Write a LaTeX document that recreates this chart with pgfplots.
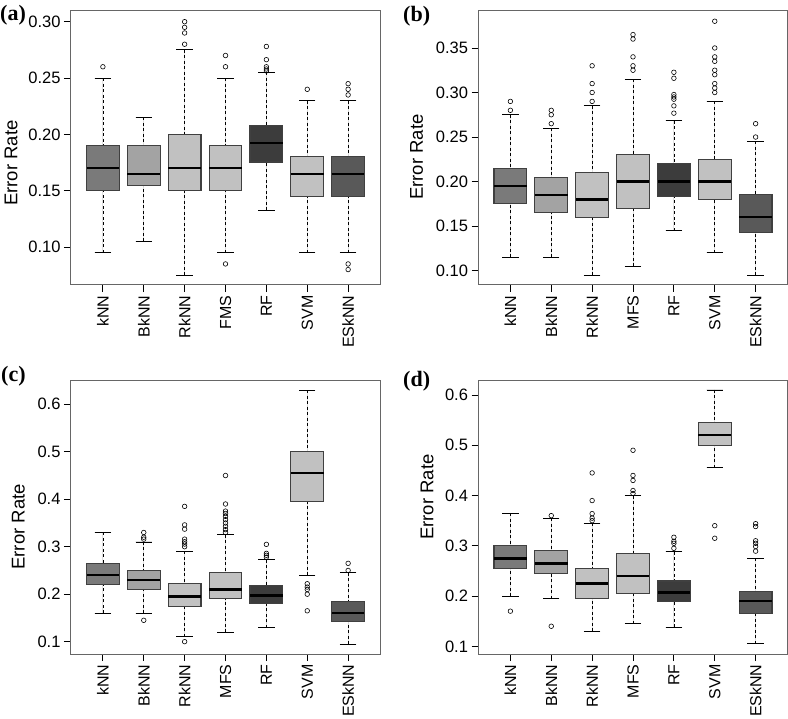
\documentclass[border=0pt]{standalone}
\usepackage{pgfplots}
\pgfplotsset{compat=1.18}
\usepgfplotslibrary{statistics}
\usepackage{fontspec}
\setmainfont{Liberation Sans}
\newfontfamily\seriffont{Liberation Serif}
\definecolor{cA}{HTML}{7A7A7A}
\definecolor{cB}{HTML}{A3A3A3}
\definecolor{cC}{HTML}{C1C1C1}
\definecolor{cD}{HTML}{3C3C3C}
\definecolor{cE}{HTML}{595959}
\pgfplotsset{
  boxplot/draw/lower whisker/.code={%
    \draw[black, solid, line width=0.9pt]
      (boxplot whisker cs:\pgfplotsboxplotvalue{lower whisker},0) --
      (boxplot whisker cs:\pgfplotsboxplotvalue{lower whisker},1);
    \draw[black, line width=0.7pt, dash pattern=on 3pt off 2.5pt]
      (boxplot cs:\pgfplotsboxplotvalue{lower whisker}) --
      (boxplot cs:\pgfplotsboxplotvalue{lower quartile});
  },
  boxplot/draw/upper whisker/.code={%
    \draw[black, solid, line width=0.9pt]
      (boxplot whisker cs:\pgfplotsboxplotvalue{upper whisker},0) --
      (boxplot whisker cs:\pgfplotsboxplotvalue{upper whisker},1);
    \draw[black, line width=0.7pt, dash pattern=on 3pt off 2.5pt]
      (boxplot cs:\pgfplotsboxplotvalue{upper whisker}) --
      (boxplot cs:\pgfplotsboxplotvalue{upper quartile});
  },
  boxplot/every median/.style={black, solid, line width=2.4pt},
  boxplot/every box/.style={draw=black!75, line width=1.1pt},
  myax/.style={
    scale only axis, width=309pt, height=274pt,
    xmin=0.22, xmax=7.78, xtick={1,2,3,4,5,6,7},
    tick align=outside, xtick pos=bottom, ytick pos=left,
    major tick length=7pt,
    tick style={black, line width=0.8pt},
    axis line style={black!60, line width=1pt},
    x tick label style={rotate=90, anchor=east, font=\fontsize{16}{16}\selectfont},
    y tick label style={font=\fontsize{16.5}{16.5}\selectfont},
    /pgf/number format/assume math mode=true,
    /pgf/number format/fixed, /pgf/number format/fixed zerofill,
    ylabel={Error Rate},
    ylabel style={font=\fontsize{18.5}{18.5}\selectfont, anchor=center},
    clip=false,
  },
  bx/.style={fill=#1, mark=o, mark size=2.3pt,
    mark options={black, solid, line width=0.6pt, fill=none}},
}
% pos, colour, lw, lq, med, uq, uw, outliers
\newcommand{\bx}[8]{%
  \addplot[bx=#2, boxplot prepared={draw direction=y, draw position=#1,
    box extend=0.8, whisker extend=0.4, lower whisker=#3,
    lower quartile=#4, median=#5, upper quartile=#6, upper whisker=#7}]
    coordinates {#8};}
\begin{document}
\begin{tikzpicture}
\useasboundingbox (0pt,0pt) rectangle (788pt,-719pt);
% ---------------- (a)
\begin{axis}[myax, at={(71pt,-285pt)}, anchor=south west,
  ymin=0.0663, ymax=0.3095, ytick={0.10,0.15,0.20,0.25,0.30},
  /pgf/number format/precision=2,
  xticklabels={kNN,BkNN,RkNN,FMS,RF,SVM,ESkNN},
  ylabel style={at={(axis description cs:-0.194,0.445)}}]
\bx{1}{cA}{0.095}{0.15}{0.17}{0.19}{0.25}{(0,0.26)}
\bx{2}{cB}{0.105}{0.155}{0.165}{0.19}{0.215}{}
\bx{3}{cC}{0.075}{0.15}{0.17}{0.20}{0.275}{(0,0.28) (0,0.29) (0,0.295) (0,0.30)}
\bx{4}{cC}{0.095}{0.15}{0.17}{0.19}{0.25}{(0,0.26) (0,0.27) (0,0.085)}
\bx{5}{cD}{0.1325}{0.1755}{0.1925}{0.2075}{0.255}{(0,0.2563) (0,0.258) (0,0.26) (0,0.2663) (0,0.278)}
\bx{6}{cC}{0.095}{0.145}{0.165}{0.18}{0.23}{(0,0.24)}
\bx{7}{cE}{0.095}{0.145}{0.165}{0.18}{0.23}{(0,0.235) (0,0.24) (0,0.245) (0,0.085) (0,0.08)}
\end{axis}
% ---------------- (b)
\begin{axis}[myax, at={(478.5pt,-285pt)}, anchor=south west,
  ymin=0.0839, ymax=0.3915, ytick={0.10,0.15,0.20,0.25,0.30,0.35},
  /pgf/number format/precision=2,
  xticklabels={kNN,BkNN,RkNN,MFS,RF,SVM,ESkNN},
  ylabel style={at={(axis description cs:-0.2,0.467)}}]
\bx{1}{cA}{0.115}{0.175}{0.195}{0.215}{0.275}{(0,0.28) (0,0.29)}
\bx{2}{cB}{0.115}{0.165}{0.185}{0.205}{0.26}{(0,0.265) (0,0.275) (0,0.28)}
\bx{3}{cC}{0.095}{0.16}{0.18}{0.21}{0.285}{(0,0.29) (0,0.30) (0,0.31) (0,0.33)}
\bx{4}{cC}{0.105}{0.17}{0.20}{0.23}{0.315}{(0,0.325) (0,0.33) (0,0.34) (0,0.36) (0,0.365)}
\bx{5}{cD}{0.145}{0.1833}{0.20}{0.22}{0.2685}{(0,0.2768) (0,0.285) (0,0.2925) (0,0.295) (0,0.2977) (0,0.316) (0,0.3227)}
\bx{6}{cC}{0.12}{0.18}{0.20}{0.225}{0.29}{(0,0.30) (0,0.305) (0,0.31) (0,0.32) (0,0.325) (0,0.335) (0,0.34) (0,0.35) (0,0.38)}
\bx{7}{cE}{0.095}{0.1425}{0.16}{0.185}{0.245}{(0,0.25) (0,0.265)}
\end{axis}
% ---------------- (c)
\begin{axis}[myax, at={(71pt,-654pt)}, anchor=south west,
  ymin=0.074, ymax=0.6512, ytick={0.1,0.2,0.3,0.4,0.5,0.6},
  /pgf/number format/precision=1,
  xticklabels={kNN,BkNN,RkNN,MFS,RF,SVM,ESkNN},
  ylabel style={at={(axis description cs:-0.17,0.464)}}]
\bx{1}{cA}{0.16}{0.22}{0.24}{0.265}{0.33}{}
\bx{2}{cB}{0.16}{0.21}{0.23}{0.25}{0.31}{(0,0.316) (0,0.32) (0,0.33) (0,0.145)}
\bx{3}{cC}{0.11}{0.175}{0.195}{0.222}{0.29}{(0,0.30) (0,0.3056) (0,0.3105) (0,0.316) (0,0.337) (0,0.346) (0,0.385) (0,0.10)}
\bx{4}{cC}{0.12}{0.19}{0.21}{0.245}{0.325}{(0,0.33) (0,0.336) (0,0.343) (0,0.35) (0,0.357) (0,0.364) (0,0.37) (0,0.375) (0,0.39) (0,0.45)}
\bx{5}{cD}{0.129}{0.18}{0.197}{0.218}{0.273}{(0,0.278) (0,0.282) (0,0.286) (0,0.305)}
\bx{6}{cC}{0.24}{0.395}{0.455}{0.50}{0.63}{(0,0.222) (0,0.215) (0,0.21) (0,0.20) (0,0.165)}
\bx{7}{cE}{0.095}{0.143}{0.16}{0.185}{0.245}{(0,0.25) (0,0.265)}
\end{axis}
% ---------------- (d)
\begin{axis}[myax, at={(478.5pt,-654pt)}, anchor=south west,
  ymin=0.0848, ymax=0.6298, ytick={0.1,0.2,0.3,0.4,0.5,0.6},
  /pgf/number format/precision=1,
  xticklabels={kNN,BkNN,RkNN,MFS,RF,SVM,ESkNN},
  ylabel style={at={(axis description cs:-0.166,0.573)}}]
\bx{1}{cA}{0.20}{0.255}{0.275}{0.30}{0.365}{(0,0.17)}
\bx{2}{cB}{0.195}{0.245}{0.265}{0.29}{0.355}{(0,0.36) (0,0.14)}
\bx{3}{cC}{0.13}{0.195}{0.225}{0.255}{0.345}{(0,0.35) (0,0.355) (0,0.364) (0,0.39) (0,0.445)}
\bx{4}{cC}{0.145}{0.205}{0.24}{0.285}{0.40}{(0,0.404) (0,0.41) (0,0.43) (0,0.44) (0,0.49)}
\bx{5}{cD}{0.138}{0.19}{0.207}{0.23}{0.288}{(0,0.295) (0,0.305) (0,0.309) (0,0.317)}
\bx{6}{cC}{0.455}{0.50}{0.52}{0.545}{0.61}{(0,0.34) (0,0.315)}
\bx{7}{cE}{0.105}{0.165}{0.19}{0.21}{0.275}{(0,0.2894) (0,0.2987) (0,0.305) (0,0.31) (0,0.3384) (0,0.344)}
\end{axis}
% panel letters
\node[font=\seriffont\bfseries\fontsize{22}{22}\selectfont, anchor=base west, inner sep=0pt] at (0pt,-20.5pt) {(a)};
\node[font=\seriffont\bfseries\fontsize{22}{22}\selectfont, anchor=base west, inner sep=0pt] at (403pt,-21.5pt) {(b)};
\node[font=\seriffont\bfseries\fontsize{22}{22}\selectfont, anchor=base west, inner sep=0pt] at (1pt,-382pt) {(c)};
\node[font=\seriffont\bfseries\fontsize{22}{22}\selectfont, anchor=base west, inner sep=0pt] at (403pt,-387pt) {(d)};
\end{tikzpicture}
\end{document}
